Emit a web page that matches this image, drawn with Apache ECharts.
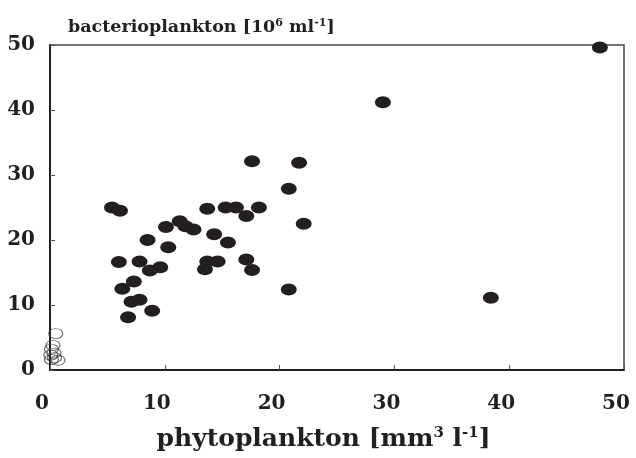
<!DOCTYPE html>
<html>
<head>
<meta charset="utf-8">
<script src="https://cdn.jsdelivr.net/npm/echarts@6/dist/echarts.min.js"></script>
<style>
  html, body { margin: 0; padding: 0; background: #fff; }
  #chart { width: 636px; height: 458px; }
</style>
</head>
<body>
<div id="chart"></div>
<script>
// phytoplankton [mm3 l-1] vs bacterioplankton [10^6 ml-1]
var phytoFilled = [17.6, 21.7, 20.8, 5.4, 6.1, 13.7, 15.3, 16.2, 18.2, 17.1, 22.1, 10.1, 11.3, 11.8, 12.5,
  14.3, 8.5, 15.5, 10.3, 6.0, 7.8, 9.6, 8.7, 13.7, 14.6, 13.5, 17.1, 17.6, 7.3, 6.3, 20.8, 7.1, 7.8, 8.9,
  6.8, 47.9, 29.0, 38.4];
var bactFilled = [32.1, 31.9, 27.9, 25.0, 24.5, 24.8, 25.0, 25.0, 25.0, 23.7, 22.5, 22.0, 22.9, 22.1, 21.6,
  20.9, 20.0, 19.6, 18.9, 16.6, 16.7, 15.8, 15.3, 16.7, 16.7, 15.5, 17.0, 15.4, 13.6, 12.5, 12.4, 10.5, 10.8, 9.1,
  8.1, 49.6, 41.2, 11.1];
var phytoOpen = [0.5, 0.26, 0.12, 0.35, 0.06, 0.7, 0.12, 0.4];
var bactOpen = [5.6, 3.8, 3.2, 2.6, 2.3, 1.5, 1.6, 1.9];
var xTicks = [0, 10, 20, 30, 40, 50];
var yTicks = [0, 10, 20, 30, 40, 50];

function pairs(xs, ys) {
  return xs.map(function (x, i) { return [x, ys[i]]; });
}

var serif = '"DejaVu Serif", "Liberation Serif", serif';
var ink = '#231f20';

var myChart = echarts.init(document.getElementById('chart'));
var option = {
  animation: false,
  backgroundColor: '#fff',
  grid: {
    left: 50, right: 12, top: 45, bottom: 88,
    outerBoundsMode: 'none',
    show: true, borderColor: '#444', borderWidth: 1.5
  },
  title: {
    left: 63, top: 13,
    text: 'bacterioplankton [10{sup|6} ml{sup|-1}]',
    textStyle: {
      fontFamily: serif, fontWeight: 'bold', fontSize: 17.5, color: ink,
      rich: {
        sup: { fontFamily: serif, fontWeight: 'bold', fontSize: 11, color: ink, verticalAlign: 'top', padding: [0, 0, 8, 0] }
      }
    }
  },
  xAxis: {
    type: 'value', min: xTicks[0], max: xTicks[xTicks.length - 1], interval: 10,
    splitLine: { show: false },
    axisLine: { show: true, lineStyle: { color: ink, width: 2 } },
    axisTick: { show: true, inside: true, length: 5, lineStyle: { color: '#555', width: 1 } },
    axisLabel: { fontFamily: serif, fontWeight: 'bold', fontSize: 20, color: ink, margin: 24, padding: [0, 16, 0, 0] },
    name: 'phytoplankton [mm{sup|3} l{sup|-1}]',
    nameLocation: 'middle', nameGap: 56,
    nameTextStyle: {
      fontFamily: serif, fontWeight: 'bold', fontSize: 25, color: ink, padding: [0, 27, 0, 0],
      rich: {
        sup: { fontFamily: serif, fontWeight: 'bold', fontSize: 15, color: ink, verticalAlign: 'top', padding: [0, 0, 11, 0] }
      }
    }
  },
  yAxis: {
    type: 'value', min: yTicks[0], max: yTicks[yTicks.length - 1], interval: 10,
    splitLine: { show: false },
    axisLine: { show: true, lineStyle: { color: ink, width: 2 } },
    axisTick: { show: true, inside: true, length: 5, lineStyle: { color: '#555', width: 1 } },
    axisLabel: { fontFamily: serif, fontWeight: 'bold', fontSize: 20, color: ink, margin: 15 }
  },
  series: [
    {
      type: 'scatter',
      data: pairs(phytoOpen, bactOpen),
      symbol: 'circle',
      symbolSize: [14, 10],
      itemStyle: { color: 'transparent', borderColor: '#444', borderWidth: 1 },
      z: 3
    },
    {
      type: 'scatter',
      data: pairs(phytoFilled, bactFilled),
      symbol: 'circle',
      symbolSize: [16, 12],
      itemStyle: { color: ink, opacity: 1 },
      z: 4
    }
  ]
};
myChart.setOption(option);
</script>
</body>
</html>
